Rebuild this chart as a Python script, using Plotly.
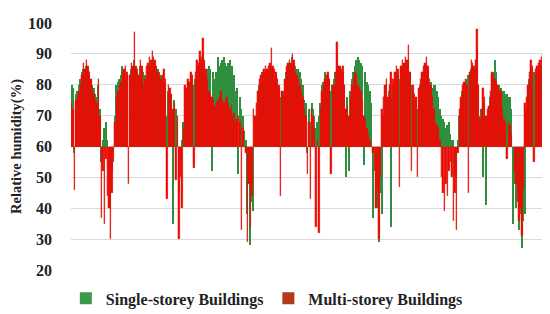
import plotly.graph_objects as go

# Relative humidity (%), one value per bar
multi_storey = [
    74, 72, 46, 75, 76, 78, 80, 83, 87, 85, 88, 86, 84, 82, 79, 77, 75, 74, 82, 70,
    37, 52, 35, 56, 44, 40, 30, 45, 55, 68, 76, 78, 80, 81, 84, 85, 86, 84, 48, 83,
    87, 86, 97, 86, 85, 83, 88, 86, 80, 82, 86, 87,
    89, 88, 91, 89, 88, 86, 84, 83, 82, 83, 85, 82, 43, 80, 79, 77, 72, 74, 49, 70,
    30, 50, 40, 66, 80, 79, 82, 81, 84, 83, 53, 84, 88, 87, 91, 89, 95, 88, 85, 82,
    78, 77, 76, 75, 73, 74, 75, 76, 78, 75, 74, 75, 76, 74,
    72, 73, 70, 71, 68, 69, 70, 68, 33, 66, 60, 58, 29, 48, 34, 44, 72, 70, 74, 78,
    82, 83, 84, 85, 86, 85, 86, 87, 92, 86, 85, 84, 82, 80, 44, 78, 77, 82, 86, 87,
    88, 87, 90, 88, 84, 83, 82, 80, 78, 76, 72, 70, 51, 68,
    43, 72, 70, 66, 34, 62, 32, 72, 78, 80, 82, 83, 84, 82, 51, 80, 80, 84, 94, 86,
    86, 85, 86, 80, 72, 73, 70, 76, 80, 82, 84, 83, 80, 79, 78, 75, 70, 69, 66, 64,
    62, 60, 58, 52, 40, 46, 30, 50, 72, 76, 80, 82, 76, 80,
    84, 82, 82, 84, 86, 85, 47, 86, 88, 87, 89, 88, 93, 84, 52, 80, 77, 76, 50, 79,
    82, 84, 86, 87, 89, 86, 82, 80, 76, 72, 68, 67, 66, 62, 50, 45, 39, 48, 44, 52,
    55, 50, 36, 45, 33, 58, 72, 76, 80, 81, 82, 80,
    45, 84, 88, 87, 86, 88, 98, 80, 69, 72, 79, 76, 70, 72, 73, 78, 84, 83, 82, 81,
    80, 78, 78, 72, 69, 68, 56, 68, 67, 64, 60, 52, 48, 42, 36, 40, 31, 46, 74, 76,
    80, 84, 88, 86, 55, 85, 86, 87, 88, 89, 90, 86, 84, 82, 80, 81,
]
single_storey = [
    80, 79, 58, 77, 78, 80, 82, 84, 85, 84, 86, 85, 83, 82, 80, 79, 77, 76, 80, 72,
    55, 62, 66, 68, 62, 60, 40, 52, 58, 70, 80, 81, 82, 83, 86, 85, 82, 83, 60, 82,
    85, 84, 88, 85, 84, 83, 86, 85, 84, 83, 82, 84,
    86, 86, 88, 87, 86, 85, 85, 84, 83, 82, 81, 80, 70, 78, 76, 77, 35, 75, 72, 68,
    45, 55, 62, 68, 78, 79, 80, 81, 83, 82, 80, 82, 85, 86, 88, 87, 90, 87, 84, 85,
    86, 85, 52, 84, 82, 84, 89, 86, 87, 88, 89, 87, 86, 87,
    88, 86, 86, 83, 78, 79, 51, 76, 72, 70, 65, 62, 38, 56, 28, 42, 39, 68, 70, 76,
    80, 81, 84, 83, 84, 84, 85, 84, 86, 85, 82, 83, 80, 79, 76, 77, 78, 81, 84, 85,
    87, 86, 89, 87, 86, 85, 85, 84, 82, 80, 75, 74, 58, 72,
    68, 74, 72, 70, 66, 68, 70, 74, 80, 81, 84, 83, 83, 82, 78, 80, 82, 84, 90, 86,
    85, 84, 84, 80, 50, 76, 52, 78, 82, 84, 86, 88, 89, 88, 87, 86, 54, 84, 81, 80,
    78, 74, 37, 60, 48, 40, 29, 45, 38, 70, 78, 80, 74, 78,
    34, 76, 80, 82, 84, 83, 82, 84, 86, 85, 87, 86, 88, 84, 80, 78, 75, 76, 72, 78,
    80, 82, 84, 85, 87, 85, 80, 81, 79, 80, 80, 78, 76, 72, 70, 69, 68, 66, 67, 68,
    64, 62, 62, 55, 50, 62, 70, 74, 78, 80, 81, 82,
    83, 84, 85, 86, 84, 85, 92, 80, 70, 72, 50, 74, 41, 70, 72, 76, 82, 84, 88, 84,
    79, 80, 79, 78, 78, 77, 77, 76, 76, 72, 35, 48, 40, 45, 33, 38, 27, 36, 38, 72,
    76, 82, 86, 85, 84, 84, 86, 85, 85, 86, 98, 88, 86, 84, 82, 82,
]
y_ticks = [20, 30, 40, 50, 60, 70, 80, 90, 100]
baseline = 60
series_names = ["Single-storey Buildings", "Multi-storey Buildings"]

idx = list(range(len(multi_storey)))
serif = "Liberation Serif, Times New Roman, serif"

fig = go.Figure()
fig.add_trace(go.Bar(
    x=idx, y=[v - baseline for v in single_storey], base=baseline,
    marker=dict(color="#2f8f3f", line=dict(width=0)),
    showlegend=False, name=series_names[0],
))
fig.add_trace(go.Bar(
    x=idx, y=[v - baseline for v in multi_storey], base=baseline,
    marker=dict(color="#ff0000", line=dict(color="#a8381c", width=0.25)),
    showlegend=False, name=series_names[1],
))
# legend entries
fig.add_trace(go.Bar(x=[None], y=[None], name=series_names[0],
                     marker=dict(color="#3a9a4a", line=dict(width=0))))
fig.add_trace(go.Bar(x=[None], y=[None], name=series_names[1],
                     marker=dict(color="#b5391c", line=dict(width=0))))

fig.update_layout(
    width=550, height=314,
    margin=dict(l=62, r=7, t=10, b=44),
    barmode="overlay", bargap=0,
    plot_bgcolor="white", paper_bgcolor="white",
    font=dict(family=serif, size=16, color="#222222", weight="bold"),
    legend=dict(orientation="h", x=0.408, xanchor="center", y=-0.115, yanchor="middle",
                font=dict(family=serif, size=16, weight="bold"),
                itemwidth=30, traceorder="normal"),
    xaxis=dict(range=[-0.5, len(idx) - 0.5], showticklabels=False, showgrid=False,
               zeroline=False, showline=False),
    yaxis=dict(range=[20, 100], tickvals=y_ticks, showgrid=True, gridcolor="#d9d9d9",
               gridwidth=1, zeroline=False, showline=False, ticks="",
               ticklabelstandoff=18,
               tickfont=dict(family=serif, size=16, weight="bold", color="#222222"),
               title=dict(text="Relative humidity(%)", standoff=3,
                          font=dict(family=serif, size=14.5, weight="bold")),
               ),
)
fig.write_html("out.html")
